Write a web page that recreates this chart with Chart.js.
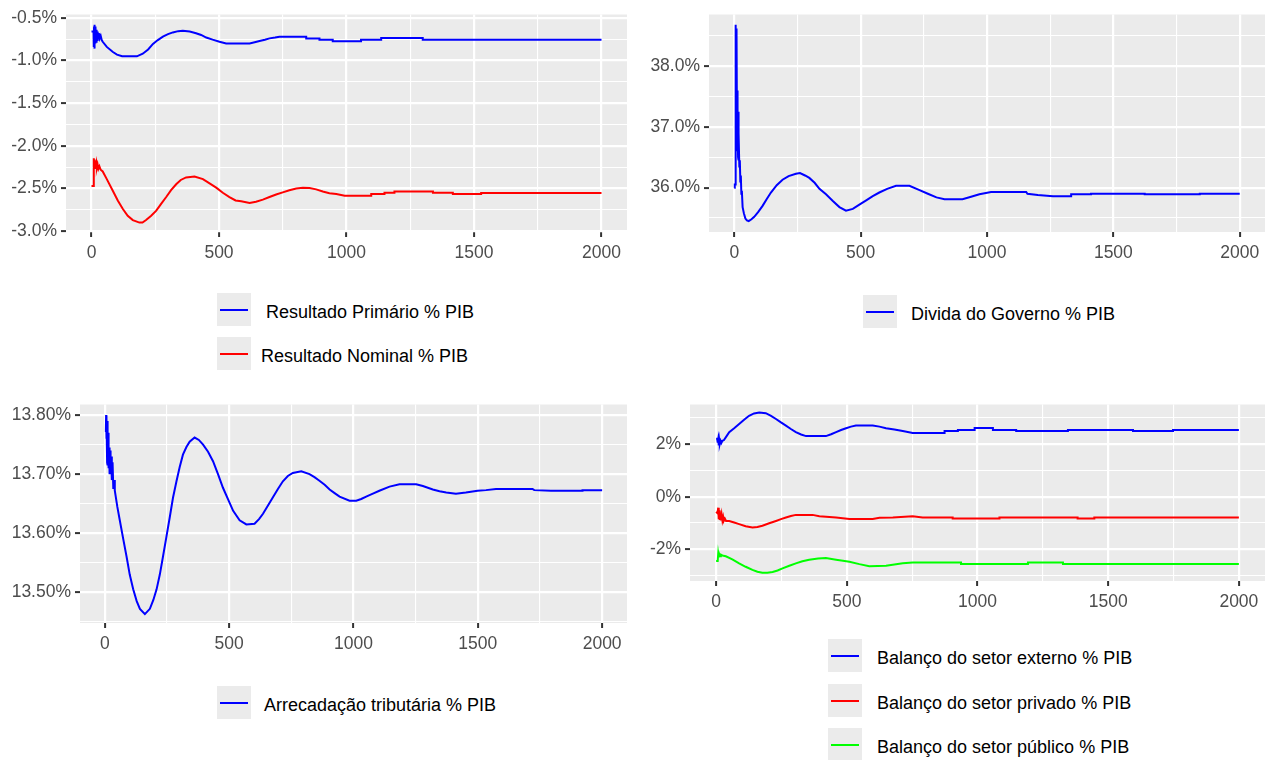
<!DOCTYPE html>
<html>
<head>
<meta charset="utf-8">
<script src="https://cdn.jsdelivr.net/npm/chart.js@4/dist/chart.umd.min.js"></script>
<style>
  html, body { margin: 0; padding: 0; background: #fff; }
  body { width: 1278px; height: 760px; position: relative; overflow: hidden;
         font-family: "Liberation Sans", Arial, sans-serif; }
  canvas.panel { position: absolute; }
  .key { position: absolute; width: 34px; height: 33px; background: #EBEBEB; }
  .key i { position: absolute; left: 3px; right: 3px; top: 15.5px; height: 2px; display: block; }
  .lab { position: absolute; font-size: 18px; line-height: 20px; color: #000; white-space: pre; }
</style>
</head>
<body>
<canvas id="c1" class="panel"></canvas>
<canvas id="c2" class="panel"></canvas>
<canvas id="c3" class="panel"></canvas>
<canvas id="c4" class="panel"></canvas>
<div id="legends"></div>
<script>
// ---- Series values: [period, % of GDP] ----
const resultadoPrimario = [
  [0,-0.66],[8,-0.66],[9,-0.84],[10,-0.60],[11,-0.86],[12,-0.58],[13,-0.82],[14,-0.62],[15,-0.80],
  [16,-0.60],[18,-0.78],[20,-0.64],[22,-0.76],[24,-0.66],[26,-0.74],[29,-0.68],[32,-0.74],[36,-0.71],
  [40,-0.76],[44,-0.78],[60,-0.84],[84,-0.90],[100,-0.93],[120,-0.95],[178,-0.95],[201,-0.92],
  [222,-0.87],[241,-0.805],[260,-0.76],[280,-0.72],[300,-0.69],[319,-0.67],[340,-0.655],[358,-0.65],
  [385,-0.66],[410,-0.68],[430,-0.70],[450,-0.73],[475,-0.755],[502,-0.78],[528,-0.80],[620,-0.80],
  [640,-0.785],[659,-0.77],[680,-0.755],[698,-0.74],[720,-0.73],[737,-0.72],[842,-0.72],[842,-0.74],
  [894,-0.74],[894,-0.755],[946,-0.755],[946,-0.774],[1057,-0.774],[1057,-0.755],[1136,-0.755],
  [1136,-0.736],[1299,-0.736],[1299,-0.755],[2000,-0.755]
];
const resultadoNominal = [
  [0,-2.47],[8,-2.47],[9,-2.145],[11,-2.22],[12,-2.16],[14,-2.26],[15,-2.18],[17,-2.25],[19,-2.20],
  [21,-2.26],[24,-2.22],[27,-2.27],[31,-2.24],[36,-2.28],[44,-2.30],[60,-2.39],[84,-2.53],[103,-2.64],
  [123,-2.74],[142,-2.82],[162,-2.87],[188,-2.90],[200,-2.90],[214,-2.87],[234,-2.82],[254,-2.76],
  [273,-2.68],[293,-2.60],[312,-2.52],[332,-2.45],[350,-2.40],[371,-2.37],[404,-2.36],[437,-2.39],
  [463,-2.44],[489,-2.49],[515,-2.55],[541,-2.60],[565,-2.64],[587,-2.65],[620,-2.67],[645,-2.655],
  [672,-2.63],[698,-2.60],[724,-2.57],[750,-2.545],[776,-2.52],[803,-2.50],[829,-2.49],[855,-2.495],
  [881,-2.51],[907,-2.535],[933,-2.555],[960,-2.565],[993,-2.585],[1097,-2.585],[1097,-2.565],
  [1149,-2.565],[1149,-2.55],[1188,-2.55],[1188,-2.535],[1339,-2.535],[1339,-2.55],[1417,-2.55],
  [1417,-2.565],[1528,-2.565],[1528,-2.554],[2000,-2.554]
];
const dividaGoverno = [
  [0,36.00],[2,36.05],[4,36.05],[5,38.68],[6,38.50],[7,37.90],[8,38.62],[9,37.20],[10,38.55],
  [11,36.70],[12,37.60],[13,36.60],[14,37.30],[15,36.50],[16,37.25],[17,36.45],[18,36.90],[20,36.35],
  [22,36.45],[24,36.10],[26,36.20],[28,35.90],[30,35.95],[33,35.68],[38,35.58],[44,35.49],[50,35.46],
  [57,35.45],[68,35.48],[79,35.52],[95,35.60],[112,35.70],[128,35.81],[145,35.92],[168,36.04],
  [191,36.13],[215,36.19],[244,36.23],[260,36.24],[280,36.20],[297,36.16],[318,36.08],[337,35.98],
  [363,35.89],[390,35.78],[416,35.68],[442,35.62],[469,35.65],[495,35.72],[522,35.79],[548,35.86],
  [574,35.92],[605,35.98],[640,36.03],[693,36.03],[733,35.96],[766,35.90],[800,35.84],[832,35.81],
  [903,35.81],[937,35.85],[970,35.89],[1016,35.93],[1155,35.93],[1160,35.90],[1201,35.88],
  [1261,35.86],[1333,35.86],[1333,35.89],[1412,35.89],[1412,35.90],[1624,35.90],[1624,35.89],
  [1842,35.89],[1842,35.90],[2000,35.90]
];
const arrecadacaoTributaria = [
  [0,13.773],[4,13.773],[5,13.800],[6,13.760],[7,13.795],[9,13.720],[10,13.790],[12,13.715],
  [13,13.770],[15,13.710],[17,13.745],[19,13.700],[21,13.740],[23,13.700],[25,13.730],[28,13.690],
  [31,13.720],[34,13.675],[37,13.690],[40,13.672],[50,13.645],[60,13.622],[74,13.590],[87,13.561],
  [100,13.530],[114,13.505],[128,13.485],[141,13.472],[161,13.463],[181,13.472],[195,13.487],
  [208,13.505],[221,13.530],[234,13.561],[248,13.595],[261,13.627],[274,13.660],[288,13.688],
  [301,13.712],[314,13.733],[328,13.746],[341,13.755],[361,13.762],[378,13.758],[395,13.750],
  [415,13.738],[435,13.722],[455,13.700],[475,13.677],[496,13.657],[516,13.638],[542,13.622],
  [569,13.615],[602,13.616],[620,13.624],[636,13.633],[656,13.647],[676,13.661],[696,13.675],
  [716,13.688],[736,13.697],[756,13.702],[790,13.705],[823,13.700],[843,13.695],[863,13.689],
  [884,13.682],[904,13.674],[924,13.668],[944,13.662],[984,13.655],[1011,13.655],[1031,13.658],
  [1051,13.662],[1078,13.667],[1104,13.672],[1145,13.679],[1185,13.683],[1252,13.683],[1279,13.680],
  [1319,13.674],[1346,13.671],[1373,13.669],[1412,13.667],[1452,13.669],[1499,13.672],[1533,13.673],
  [1573,13.675],[1720,13.675],[1727,13.673],[1794,13.672],[1921,13.672],[1921,13.673],[2000,13.673]
];
const setorExterno = [
  [0,2.20],[4,2.20],[6,2.05],[8,2.18],[10,1.95],[12,2.15],[14,2.00],[17,2.12],[20,2.04],[24,2.12],
  [30,2.15],[40,2.30],[50,2.45],[69,2.60],[88,2.76],[107,2.92],[126,3.07],[145,3.16],[165,3.20],
  [190,3.17],[210,3.07],[229,2.95],[248,2.82],[267,2.70],[286,2.57],[305,2.45],[325,2.36],[344,2.30],
  [420,2.30],[440,2.37],[459,2.45],[478,2.53],[497,2.60],[516,2.66],[535,2.70],[599,2.70],[625,2.66],
  [650,2.60],[682,2.55],[714,2.49],[752,2.42],[874,2.42],[874,2.49],[925,2.49],[925,2.53],[989,2.53],
  [989,2.61],[1059,2.61],[1059,2.53],[1148,2.53],[1148,2.49],[1346,2.49],[1346,2.53],[1595,2.53],
  [1595,2.49],[1748,2.49],[1748,2.53],[2000,2.53]
];
const setorPrivado = [
  [0,-0.57],[5,-0.62],[8,-0.42],[10,-0.85],[12,-0.52],[14,-0.88],[16,-0.60],[18,-0.90],[21,-0.68],
  [24,-0.90],[27,-0.76],[30,-0.91],[34,-0.84],[38,-0.92],[50,-0.92],[69,-0.98],[88,-1.04],[113,-1.12],
  [139,-1.17],[158,-1.15],[177,-1.10],[203,-1.01],[229,-0.92],[248,-0.85],[267,-0.79],[286,-0.73],
  [305,-0.69],[369,-0.69],[395,-0.74],[459,-0.79],[510,-0.85],[599,-0.85],[625,-0.80],[676,-0.79],
  [752,-0.74],[790,-0.79],[905,-0.79],[905,-0.83],[1084,-0.83],[1084,-0.79],[1383,-0.79],[1383,-0.83],
  [1447,-0.83],[1447,-0.79],[2000,-0.79]
];
const setorPublico = [
  [0,-2.44],[6,-2.44],[8,-2.16],[10,-2.30],[12,-2.18],[15,-2.26],[18,-2.20],[24,-2.23],[37,-2.26],
  [62,-2.38],[88,-2.53],[113,-2.66],[139,-2.78],[158,-2.85],[177,-2.89],[196,-2.89],[216,-2.86],
  [235,-2.80],[254,-2.72],[280,-2.62],[305,-2.53],[330,-2.45],[356,-2.39],[390,-2.35],[420,-2.33],
  [459,-2.39],[485,-2.43],[510,-2.47],[548,-2.56],[586,-2.64],[650,-2.62],[682,-2.57],[714,-2.53],
  [752,-2.50],[937,-2.50],[937,-2.55],[1193,-2.55],[1193,-2.50],[1327,-2.50],[1327,-2.55],[2000,-2.55]
];

// ---- Axis breaks ----
const xMajor = [0, 500, 1000, 1500, 2000];
const xMinor = [250, 750, 1250, 1750];
const y1Major = [-3.0, -2.5, -2.0, -1.5, -1.0, -0.5];
const y1Minor = [-2.75, -2.25, -1.75, -1.25, -0.75];
const y2Major = [36, 37, 38];
const y2Minor = [35.5, 36.5, 37.5, 38.5];
const y3Major = [13.5, 13.6, 13.7, 13.8];
const y3Minor = [13.45, 13.55, 13.65, 13.75];
const y4Major = [-2, 0, 2];
const y4Minor = [-3, -1, 1, 3];

// ---- Legend labels ----
const legend1 = [" Resultado Primário % PIB", "Resultado Nominal % PIB"];
const legend2 = ["Divida do Governo % PIB"];
const legend3 = ["Arrecadação tributária % PIB"];
const legend4 = ["Balanço do setor externo % PIB", "Balanço do setor privado % PIB", "Balanço do setor público % PIB"];

const BLUE = '#0000FF', RED = '#FF0000', GREEN = '#00FF00';
const FONT = '"Liberation Sans", Arial, sans-serif';
Chart.defaults.font.family = FONT;

const panelBg = {
  id: 'panelBg',
  beforeDraw(chart) {
    const { ctx, chartArea: a } = chart;
    ctx.save();
    ctx.fillStyle = '#EBEBEB';
    ctx.fillRect(a.left, a.top, a.right - a.left, a.bottom - a.top);
    ctx.restore();
  }
};

const isIn = (arr, v) => arr.some(m => Math.abs(m - v) < 1e-9);

function makePanel(cfg) {
  const cv = document.getElementById(cfg.id);
  cv.width = cfg.w; cv.height = cfg.h;
  cv.style.left = cfg.left + 'px'; cv.style.top = cfg.top + 'px';
  cv.style.width = cfg.w + 'px'; cv.style.height = cfg.h + 'px';

  const gridOpts = (major) => ({
    color: '#FFFFFF',
    lineWidth: c => (c.tick && isIn(major, c.tick.value)) ? 2.2 : 1.1,
    tickColor: c => (c.tick && isIn(major, c.tick.value)) ? '#333333' : 'rgba(0,0,0,0)',
    tickWidth: 2,
    tickLength: 5,
    drawTicks: true
  });
  const tickFont = { size: 17.5, family: FONT };

  new Chart(cv, {
    type: 'line',
    data: {
      datasets: cfg.series.map(s => ({
        data: s.pts.map(([x, y]) => ({ x, y })),
        borderColor: s.color,
        borderWidth: 2,
        pointRadius: 0,
        tension: 0,
        fill: false
      }))
    },
    options: {
      responsive: false,
      animation: false,
      events: [],
      layout: { padding: { top: cfg.padTop, right: cfg.padRight, left: 0, bottom: 0 } },
      plugins: { legend: { display: false }, tooltip: { enabled: false } },
      scales: {
        x: {
          type: 'linear', min: -100, max: 2100,
          afterBuildTicks: s => { s.ticks = [...xMajor, ...xMinor].sort((a, b) => a - b).map(v => ({ value: v })); },
          afterFit: s => { s.height = cfg.xAxisH; },
          grid: gridOpts(xMajor),
          border: { display: false },
          ticks: {
            autoSkip: false, maxRotation: 0, padding: 6,
            color: '#4D4D4D', font: tickFont,
            callback: v => isIn(xMajor, v) ? String(v) : ''
          }
        },
        y: {
          type: 'linear', min: cfg.yMin, max: cfg.yMax,
          afterBuildTicks: s => { s.ticks = [...cfg.yMajor, ...cfg.yMinor].sort((a, b) => a - b).map(v => ({ value: v })); },
          afterFit: s => { s.width = cfg.yAxisW; },
          grid: gridOpts(cfg.yMajor),
          border: { display: false },
          ticks: {
            autoSkip: false, padding: 4,
            color: '#4D4D4D', font: tickFont,
            callback: v => isIn(cfg.yMajor, v) ? cfg.fmt(v) : ''
          }
        }
      }
    },
    plugins: [panelBg]
  });
}

makePanel({
  id: 'c1', left: 0, top: 0, w: 640, h: 272,
  yAxisW: 66, padTop: 10, padRight: 13, xAxisH: 40,
  yMin: -3.01, yMax: -0.46, yMajor: y1Major, yMinor: y1Minor,
  fmt: v => v.toFixed(1) + '%',
  series: [{ pts: resultadoPrimario, color: BLUE }, { pts: resultadoNominal, color: RED }]
});
makePanel({
  id: 'c2', left: 640, top: 0, w: 638, h: 272,
  yAxisW: 69, padTop: 10, padRight: 13, xAxisH: 40,
  yMin: 35.27, yMax: 38.85, yMajor: y2Major, yMinor: y2Minor,
  fmt: v => v.toFixed(1) + '%',
  series: [{ pts: dividaGoverno, color: BLUE }]
});
makePanel({
  id: 'c3', left: 0, top: 390, w: 640, h: 272,
  yAxisW: 80, padTop: 12, padRight: 13, xAxisH: 39,
  yMin: 13.448, yMax: 13.818, yMajor: y3Major, yMinor: y3Minor,
  fmt: v => v.toFixed(2) + '%',
  series: [{ pts: arrecadacaoTributaria, color: BLUE }]
});
makePanel({
  id: 'c4', left: 640, top: 390, w: 638, h: 230,
  yAxisW: 50, padTop: 12, padRight: 13, xAxisH: 39,
  yMin: -3.2, yMax: 3.5, yMajor: y4Major, yMinor: y4Minor,
  fmt: v => v.toFixed(0) + '%',
  series: [{ pts: setorExterno, color: BLUE }, { pts: setorPrivado, color: RED }, { pts: setorPublico, color: GREEN }]
});

// ---- Legends (key box + line + label) ----
function addLegend(labels, colors, keyLeft, keyTops, labelLeft) {
  const host = document.getElementById('legends');
  labels.forEach((txt, i) => {
    const k = document.createElement('div');
    k.className = 'key';
    k.style.left = keyLeft + 'px';
    k.style.top = keyTops[i] + 'px';
    const ln = document.createElement('i');
    ln.style.background = colors[i];
    k.appendChild(ln);
    host.appendChild(k);
    const l = document.createElement('div');
    l.className = 'lab';
    l.textContent = txt;
    l.style.left = labelLeft + 'px';
    l.style.top = (keyTops[i] + 9) + 'px';
    host.appendChild(l);
  });
}
addLegend(legend1, [BLUE, RED], 217, [293, 337], 261);
addLegend(legend2, [BLUE], 863, [295], 911);
addLegend(legend3, [BLUE], 217, [686], 264);
addLegend(legend4, [BLUE, RED, GREEN], 828, [639, 684, 728], 877);
</script>
</body>
</html>
